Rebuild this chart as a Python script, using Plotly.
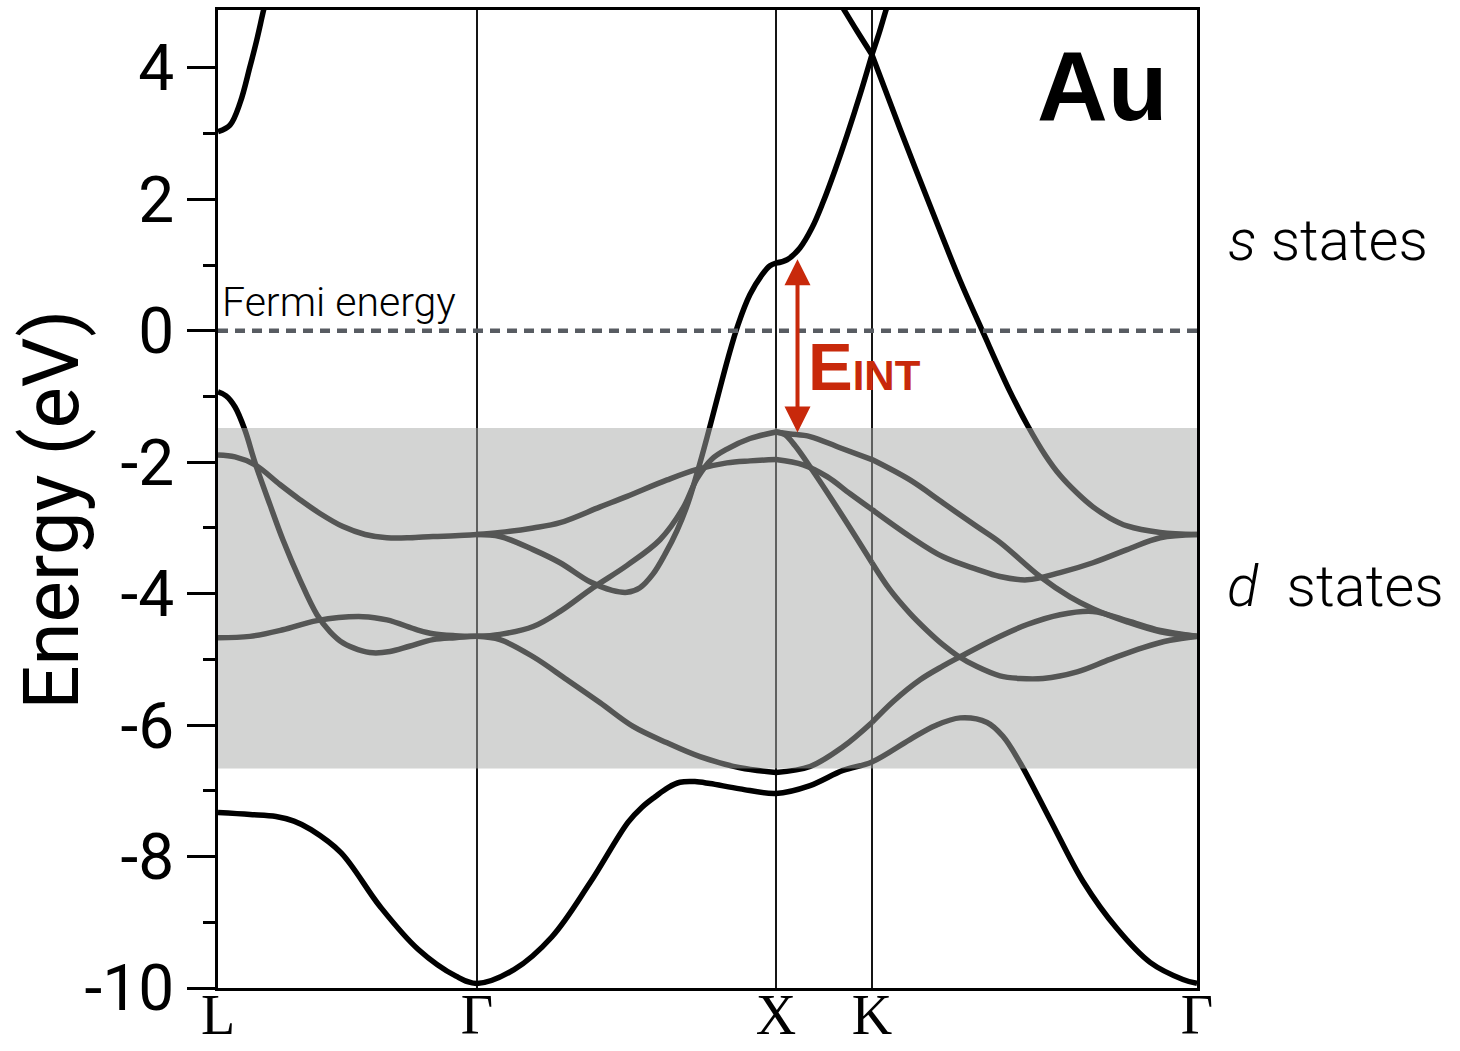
import plotly.graph_objects as go

# High-symmetry points of the fcc Brillouin-zone path (k in units of 2*pi/a)
HS_LABELS = ["L", "Γ", "X", "K", "Γ"]
HS_K = [0.0, 0.866, 1.866, 2.187, 3.274]

E_RANGE = [-10.0, 4.88]
E_TICKS = [-10, -8, -6, -4, -2, 0, 2, 4]
E_TICK_TEXT = ["-10", "-8", "-6", "-4", "-2", "0", "2", "4"]

E_FERMI = 0.0
D_BAND_WINDOW = [-6.66, -1.48]   # energy window dominated by the d states

# interband threshold: top of the d bands up to the s band near X
E_INT_K = 1.938
E_INT_BOTTOM = -1.55
E_INT_TOP = 1.11

# Band energies (eV) sampled along the path, (k, E)
band_1 = [
    (0.000, -7.33), (0.107, -7.36), (0.194, -7.39), (0.254, -7.46), (0.311, -7.59),
    (0.411, -7.94), (0.542, -8.76), (0.669, -9.41), (0.796, -9.82), (0.866, -9.93),
    (0.990, -9.72), (1.117, -9.22), (1.244, -8.40), (1.371, -7.48), (1.418, -7.25),
    (1.462, -7.09), (1.505, -6.95), (1.545, -6.87), (1.595, -6.86), (1.645, -6.89),
    (1.746, -6.97), (1.866, -7.04),
    (1.980, -6.92), (2.090, -6.69), (2.187, -6.56),
    (2.314, -6.22), (2.398, -6.01), (2.482, -5.89), (2.572, -5.96), (2.625, -6.17),
    (2.682, -6.57), (2.783, -7.44), (2.893, -8.38), (3.007, -9.10), (3.117, -9.61),
    (3.227, -9.87), (3.274, -9.93),
]

band_2 = [
    (0.000, -4.67), (0.107, -4.65), (0.217, -4.55), (0.331, -4.41), (0.485, -4.35),
    (0.565, -4.40), (0.666, -4.55), (0.719, -4.61), (0.793, -4.64), (0.866, -4.65),
    (0.943, -4.70), (1.054, -4.96), (1.167, -5.31), (1.278, -5.66), (1.388, -6.02),
    (1.502, -6.27), (1.612, -6.48), (1.746, -6.65), (1.866, -6.72),
    (1.980, -6.63), (2.090, -6.33), (2.187, -5.96),
    (2.258, -5.64), (2.348, -5.31), (2.425, -5.10), (2.482, -4.96), (2.592, -4.70),
    (2.706, -4.47), (2.816, -4.32), (2.926, -4.27), (3.040, -4.41), (3.151, -4.56),
    (3.274, -4.65),
]

band_3 = [
    (0.000, -0.93), (0.027, -0.99), (0.057, -1.16), (0.090, -1.51), (0.124, -2.01),
    (0.174, -2.65), (0.217, -3.18), (0.274, -3.79), (0.331, -4.32), (0.375, -4.58),
    (0.418, -4.75), (0.468, -4.85), (0.518, -4.90), (0.575, -4.88), (0.640, -4.80),
    (0.719, -4.70), (0.793, -4.67), (0.866, -4.65),
    (0.943, -4.62), (1.054, -4.50), (1.144, -4.27), (1.254, -3.91), (1.368, -3.57),
    (1.478, -3.18), (1.555, -2.70), (1.602, -2.25), (1.652, -1.95), (1.702, -1.80),
    (1.779, -1.64), (1.866, -1.54),
    (1.913, -1.57), (1.980, -1.61), (2.080, -1.78), (2.187, -1.96),
    (2.314, -2.27), (2.425, -2.62), (2.538, -2.98), (2.615, -3.22), (2.749, -3.74),
    (2.849, -4.05), (2.926, -4.23), (3.040, -4.43), (3.151, -4.58), (3.274, -4.65),
]

band_4 = [
    (1.866, -1.54), (1.896, -1.58), (1.930, -1.75), (1.980, -2.07), (2.090, -2.83),
    (2.187, -3.53),
    (2.247, -3.94), (2.314, -4.30), (2.371, -4.56), (2.425, -4.78), (2.472, -4.94),
    (2.538, -5.11), (2.615, -5.25), (2.682, -5.29), (2.759, -5.29), (2.873, -5.19),
    (2.983, -5.00), (3.094, -4.82), (3.184, -4.71), (3.274, -4.65),
]

band_5 = [
    (0.000, -1.89), (0.057, -1.92), (0.124, -2.04), (0.207, -2.34), (0.274, -2.57),
    (0.341, -2.78), (0.418, -2.98), (0.492, -3.10), (0.565, -3.15), (0.642, -3.15),
    (0.719, -3.13), (0.793, -3.12), (0.866, -3.10),
    (0.943, -3.07), (1.054, -3.00), (1.144, -2.92), (1.278, -2.68), (1.368, -2.52),
    (1.502, -2.27), (1.602, -2.11), (1.702, -2.01), (1.779, -1.98), (1.866, -1.96),
    (1.957, -2.04), (2.037, -2.22), (2.114, -2.48), (2.187, -2.72),
    (2.314, -3.13), (2.425, -3.44), (2.538, -3.63), (2.615, -3.74), (2.706, -3.79),
    (2.816, -3.68), (2.926, -3.53), (3.040, -3.33), (3.151, -3.15), (3.274, -3.10),
]

band_6 = [
    (0.866, -3.10), (0.943, -3.13), (1.054, -3.33), (1.144, -3.53), (1.244, -3.82),
    (1.318, -3.95), (1.368, -3.98), (1.411, -3.91), (1.455, -3.70), (1.495, -3.40),
    (1.535, -3.04), (1.572, -2.62), (1.602, -2.17), (1.635, -1.63), (1.672, -0.99),
    (1.706, -0.41), (1.739, 0.09), (1.779, 0.55), (1.819, 0.85), (1.846, 0.99),
    (1.866, 1.03),
    (1.903, 1.08), (1.946, 1.26), (1.987, 1.57), (2.023, 1.95), (2.064, 2.45),
    (2.104, 2.98), (2.147, 3.59), (2.187, 4.20),
    (2.281, 3.07), (2.391, 1.79), (2.482, 0.76), (2.559, -0.03), (2.649, -0.93),
    (2.706, -1.43), (2.766, -1.89), (2.816, -2.20), (2.873, -2.47), (2.926, -2.68),
    (2.983, -2.85), (3.040, -2.97), (3.151, -3.07), (3.274, -3.10),
]

band_7 = [
    (0.000, 3.03), (0.040, 3.13), (0.074, 3.47), (0.107, 4.02), (0.130, 4.43),
    (0.151, 4.85), (0.167, 5.16),
]

band_8 = [
    (2.013, 5.49), (2.090, 4.91), (2.137, 4.56), (2.187, 4.20),
    (2.211, 4.53), (2.234, 4.88), (2.258, 5.22),
]

# band_1 is smooth at every high-symmetry point; the others are drawn piecewise
BANDS = [(band_1, False), (band_2, True), (band_3, True), (band_4, True),
         (band_5, True), (band_6, True), (band_7, True), (band_8, True)]


def piecewise(points, split):
    """Break a band into path segments at the inner high-symmetry points."""
    xs, ys = [], []
    inner = HS_K[1:-1]
    for i, (k, e) in enumerate(points):
        xs.append(k)
        ys.append(e)
        at_hs = any(abs(k - h) < 1e-3 for h in inner)
        if split and at_hs and 0 < i < len(points) - 1:
            xs += [None, k]
            ys += [None, e]
    return xs, ys


fig = go.Figure()

for pts, split in BANDS:
    x, y = piecewise(pts, split)
    fig.add_trace(go.Scatter(
        x=x, y=y, mode="lines", connectgaps=False,
        line=dict(color="black", width=5.5, shape="spline", smoothing=1.0),
        hoverinfo="skip", showlegend=False,
    ))

# translucent band marking the d-state manifold, drawn over the bands
fig.add_shape(type="rect", xref="paper", x0=0, x1=1, yref="y",
              y0=D_BAND_WINDOW[0], y1=D_BAND_WINDOW[1],
              fillcolor="rgba(168,170,168,0.506)", line=dict(width=0), layer="above")

# Fermi level
fig.add_shape(type="line", xref="paper", x0=0, x1=1, yref="y",
              y0=E_FERMI, y1=E_FERMI,
              line=dict(color="#585c62", width=4.5, dash="10px,7px"), layer="above")

SANS = "Roboto"
RED = "#C8290B"

annotations = [
    dict(text="Fermi energy", xref="x", yref="y", x=0.006, y=0.43,
         xanchor="left", yanchor="middle", showarrow=False,
         font=dict(family=SANS, size=41, color="black", weight=300)),
    dict(text="Au", xref="x", yref="y", x=2.957, y=3.73,
         xanchor="center", yanchor="middle", showarrow=False,
         font=dict(family="Liberation Sans", size=98, color="black", weight="bold")),
    dict(text="<i>s</i> states", xref="paper", yref="y", x=1.134, y=1.38,
         xanchor="center", yanchor="middle", showarrow=False,
         font=dict(family=SANS, size=58, color="black", weight=300)),
    dict(text="<i>d</i>\u00a0 states", xref="paper", yref="y", x=1.141, y=-3.88,
         xanchor="center", yanchor="middle", showarrow=False,
         font=dict(family=SANS, size=58, color="black", weight=300)),
    dict(text="E<span style='font-size:42px'>INT</span>", xref="x", yref="y",
         x=1.967, y=-0.545, xanchor="left", yanchor="middle", showarrow=False,
         font=dict(family="Liberation Sans", size=67, color=RED, weight="bold")),
    dict(text="", xref="x", yref="y", x=E_INT_K, y=E_INT_BOTTOM,
         axref="x", ayref="y", ax=E_INT_K, ay=E_INT_TOP,
         showarrow=True, arrowside="end+start",
         arrowhead=2, startarrowhead=2, arrowsize=1.3, startarrowsize=1.3,
         arrowwidth=4, arrowcolor=RED),
    dict(text="Energy (eV)", xref="paper", yref="paper", x=-0.1695, y=0.489,
         xanchor="center", yanchor="middle", textangle=-90, showarrow=False,
         font=dict(family=SANS, size=78, color="black")),
]

fig.update_layout(
    width=1460, height=1051,
    margin=dict(l=218, r=263, t=10, b=63, autoexpand=False),
    paper_bgcolor="white", plot_bgcolor="white",
    showlegend=False, hovermode=False,
    annotations=annotations,
    xaxis=dict(
        range=[HS_K[0], HS_K[-1]], tickmode="array", tickvals=HS_K, ticktext=HS_LABELS,
        showgrid=True, gridcolor="#151515", gridwidth=1.8, zeroline=False,
        showline=True, linecolor="black", linewidth=3, mirror=True, ticks="",
        ticklabelstandoff=-24,
        tickfont=dict(family="Liberation Serif", size=56, color="black"),
    ),
    yaxis=dict(
        range=E_RANGE, tickmode="array", tickvals=E_TICKS, ticktext=E_TICK_TEXT,
        ticks="outside", ticklen=28, tickwidth=3, tickcolor="black",
        minor=dict(tickmode="linear", tick0=-9, dtick=2, ticks="outside",
                   ticklen=12, tickwidth=3, tickcolor="black", showgrid=False),
        showgrid=False, zeroline=False,
        showline=True, linecolor="black", linewidth=3, mirror=True,
        tickfont=dict(family=SANS, size=64, color="black"),
    ),
)

fig.write_html("out.html")
